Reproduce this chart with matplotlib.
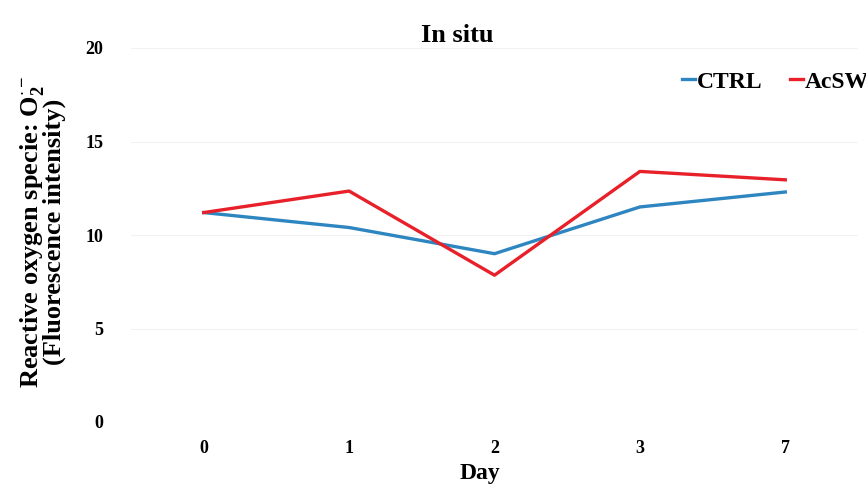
import matplotlib
matplotlib.use("Agg")
import matplotlib.pyplot as plt

days = ["0", "1", "2", "3", "7"]
ctrl = [11.2, 10.4, 9.0, 11.5, 12.3]
acsw = [11.2, 12.35, 7.85, 13.4, 12.95]
yticks = [0, 5, 10, 15, 20]

plt.rcParams['font.family'] = ['Liberation Serif', 'DejaVu Serif']
plt.rcParams['font.weight'] = 'bold'
plt.rcParams['mathtext.fontset'] = 'custom'
plt.rcParams['mathtext.rm'] = 'Liberation Serif:bold'
plt.rcParams['mathtext.it'] = 'Liberation Serif:bold'
plt.rcParams['mathtext.bf'] = 'Liberation Serif:bold'

W, H = 866, 491
fig = plt.figure(figsize=(W / 100, H / 100), dpi=100)
ax = fig.add_axes([131 / W, 1 - 422 / H, (858 - 131) / W, (422 - 48) / H])

x = list(range(len(days)))
ax.plot(x, ctrl, color='#2e86c1', lw=2.4, label='CTRL')
ax.plot(x, acsw, color='#e8202a', lw=2.4, label='AcSW')

ax.set_xlim(-0.5, len(days) - 0.5)
ax.set_ylim(0, 20)
ax.set_xticks(x)
ax.set_xticklabels(days)
ax.set_yticks(yticks)
ax.tick_params(length=0, labelsize=13)
ax.tick_params(axis='x', pad=13)
ax.tick_params(axis='y', pad=20)
for lab in ax.get_xticklabels() + ax.get_yticklabels():
    lab.set_fontweight('bold')
for s in ax.spines.values():
    s.set_visible(False)
ax.yaxis.grid(True, color='#f2f2f2', lw=0.8)
ax.set_axisbelow(True)

fig.text(480 / W, 1 - 473 / H, 'Day', fontsize=17, fontweight='bold',
         ha='center', va='center')
fig.text(42 / W, 1 - 232 / H,
         'Reactive oxygen specie: O$_2^{\\cdot-}$\n(Fluorescence intensity)',
         rotation=90, fontsize=19, fontweight='bold', ha='center', va='center',
         multialignment='center', linespacing=0.8)
fig.text(457 / W, 1 - 35 / H, 'In situ', fontsize=19, fontweight='bold',
         ha='center', va='center')

fig.legend(loc='center left', bbox_to_anchor=(661 / W, 1 - 82 / H), ncol=2,
           frameon=False, handlelength=0.55, handletextpad=0.05, columnspacing=1.2,
           prop={'size': 17, 'weight': 'bold'})

fig.savefig('out.png', dpi=100)
